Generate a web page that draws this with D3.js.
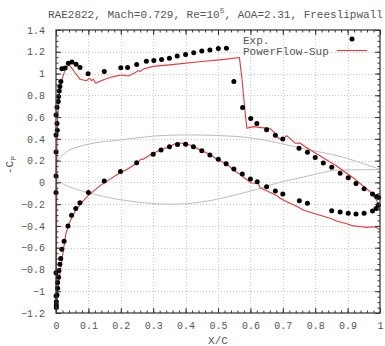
<!DOCTYPE html>
<html>
<head>
<meta charset="utf-8">
<script src="https://cdn.jsdelivr.net/npm/d3@7"></script>
<style>
  body { margin: 0; background: #fff; }
  text { font-family: "Liberation Mono", "DejaVu Sans Mono", monospace; fill: #555; }
</style>
</head>
<body>
<script>
// experiment, upper surface
var expUpperX = [0, 0, 0.004, 0.003, 0, 0.003, 0.007, 0.008, 0.010, 0.012, 0.015, 0.018, 0.028, 0.038, 0.049, 0.062, 0.074, 0.099,
  0.149, 0.20, 0.221, 0.249, 0.279, 0.302, 0.326, 0.35, 0.374, 0.40, 0.425, 0.45, 0.475, 0.501, 0.526, 0.549, 0.576, 0.601,
  0.62, 0.65, 0.677, 0.70, 0.75, 0.776, 0.80, 0.825, 0.851, 0.877, 0.902, 0.926, 0.951, 0.977, 0.99, 0.996];
var expUpperCp = [0.28, 0.436, 0.48, 0.54, 0.62, 0.69, 0.742, 0.79, 0.84, 0.88, 0.926, 1.045, 1.05, 1.095, 1.106, 1.085, 1.056, 0.998,
  1.018, 1.054, 1.056, 1.082, 1.113, 1.119, 1.13, 1.14, 1.16, 1.174, 1.192, 1.208, 1.217, 1.229, 1.232, 0.926, 0.687, 0.586,
  0.54, 0.484, 0.432, 0.399, 0.313, 0.278, 0.228, 0.177, 0.139, 0.084, 0.042, -0.01, -0.058, -0.107, -0.13, -0.14];

// experiment, lower surface
var expLowerX = [0, 0, 0.001, 0.001, 0.001, 0, 0.003, 0.005, 0.005, 0.008, 0, 0.009, 0.012, 0.0145, 0.018, 0.025, 0.037, 0.048,
  0.061, 0.074, 0.10, 0.149, 0.199, 0.249, 0.30, 0.324, 0.35, 0.375, 0.40, 0.424, 0.45, 0.475, 0.501, 0.525, 0.549, 0.575,
  0.60, 0.621, 0.65, 0.677, 0.70, 0.751, 0.776, 0.851, 0.877, 0.902, 0.926, 0.951, 0.977, 0.988, 0.995];
var expLowerCp = [0.059, -0.094, -1.15, -1.127, -1.096, -1.044, -1.035, -0.973, -0.92, -0.872, -0.83, -0.81, -0.753, -0.70, -0.615, -0.54, -0.40, -0.303,
  -0.24, -0.186, -0.094, 0.013, 0.10, 0.181, 0.258, 0.298, 0.328, 0.347, 0.35, 0.328, 0.291, 0.252, 0.212, 0.172, 0.123, 0.077,
  0.031, 0.006, -0.04, -0.079, -0.107, -0.168, -0.192, -0.26, -0.272, -0.284, -0.29, -0.284, -0.263, -0.24, -0.208];

// PowerFlow, upper surface (LE -> TE)
var simUpperX = [0.001, 0.001, 0.002, 0.002, 0.003, 0.005, 0.007, 0.012, 0.018, 0.028, 0.038, 0.045, 0.053, 0.064, 0.074, 0.084,
  0.095, 0.103, 0.11, 0.115, 0.123, 0.134, 0.151, 0.177, 0.203, 0.223, 0.244, 0.254, 0.259, 0.27, 0.30, 0.35, 0.45, 0.52, 0.566,
  0.574, 0.583, 0.589, 0.609, 0.635, 0.66, 0.671, 0.683, 0.697, 0.712, 0.722, 0.738, 0.753, 0.769, 0.794, 0.836, 0.866, 0.897,
  0.918, 0.938, 0.969, 0.989, 0.997, 1.0];
var simUpperCp = [-1.15, -0.8, -0.3, 0.1, 0.35, 0.58, 0.70, 0.85, 0.94, 1.033, 1.079, 1.064, 1.033, 0.987, 0.948, 0.941,
  0.935, 0.957, 0.935, 0.948, 0.911, 0.926, 0.948, 0.972, 0.987, 0.978, 1.008, 1.027, 1.018, 1.042, 1.066, 1.08, 1.11, 1.13, 1.148,
  0.95, 0.665, 0.497, 0.512, 0.503, 0.497, 0.466, 0.415, 0.39, 0.43, 0.405, 0.36, 0.362, 0.328, 0.282, 0.206, 0.15, 0.084,
  0.04, -0.008, -0.085, -0.16, -0.22, -0.26];

// PowerFlow, lower surface (LE -> TE)
var simLowerX = [0.001, 0.004, 0.007, 0.012, 0.016, 0.023, 0.03, 0.04, 0.048, 0.063, 0.084, 0.10, 0.136, 0.167, 0.19, 0.22,
  0.249, 0.255, 0.262, 0.268, 0.29, 0.32, 0.35, 0.372, 0.393, 0.424, 0.444, 0.475, 0.496, 0.527, 0.547, 0.568, 0.583, 0.604,
  0.624, 0.63, 0.65, 0.681, 0.691, 0.722, 0.743, 0.763, 0.794, 0.846, 0.866, 0.897, 0.918, 0.938, 0.959, 0.974, 0.989, 1.0];
var simLowerCp = [-1.15, -1.05, -0.96, -0.84, -0.76, -0.62, -0.48, -0.38, -0.33, -0.245, -0.17, -0.12, -0.03, 0.03, 0.075, 0.12,
  0.175, 0.19, 0.215, 0.21, 0.252, 0.295, 0.33, 0.362, 0.359, 0.335, 0.298, 0.258, 0.212, 0.17, 0.114, 0.075, 0.038, -0.005,
  -0.008, -0.05, -0.076, -0.12, -0.146, -0.192, -0.22, -0.254, -0.284, -0.33, -0.355, -0.38, -0.4, -0.405, -0.413, -0.407, -0.413, -0.437];

// airfoil outline (gray), drawn in Cp units
var foilUpperX = [0, 0.003, 0.02, 0.043, 0.115, 0.2, 0.3, 0.4, 0.5, 0.6, 0.72, 0.78, 0.88, 1.0];
var foilUpperY = [0.13, 0.19, 0.25, 0.30, 0.36, 0.39, 0.425, 0.436, 0.43, 0.41, 0.34, 0.30, 0.236, 0.12];
var foilLowerX = [0, 0.004, 0.02, 0.045, 0.1, 0.2, 0.34, 0.45, 0.6, 0.69, 0.75, 0.85, 0.87, 1.0];
var foilLowerY = [0.13, 0.04, -0.01, -0.045, -0.095, -0.16, -0.2, -0.18, -0.08, 0.0, 0.04, 0.107, 0.112, 0.118];

var xTicks = [0, 0.1, 0.2, 0.3, 0.4, 0.5, 0.6, 0.7, 0.8, 0.9, 1];
var yTicks = [-1.2, -1, -0.8, -0.6, -0.4, -0.2, 0, 0.2, 0.4, 0.6, 0.8, 1, 1.2, 1.4];

var W = 385, H = 346;
var margin = {top: 30, right: 5, bottom: 33, left: 56};

var svg = d3.select("body").append("svg")
    .attr("width", W)
    .attr("height", H);

var x = d3.scaleLinear().domain([0, 1]).range([margin.left, W - margin.right]);
var y = d3.scaleLinear().domain([-1.2, 1.4]).range([H - margin.bottom, margin.top]);

function zip(xs, ys) { return xs.map(function(v, i) { return [v, ys[i]]; }); }

// grid
var grid = svg.append("g").attr("stroke", "#c8c8c8").attr("stroke-dasharray", "1,2").attr("stroke-width", 1);
xTicks.slice(1, -1).forEach(function(t) {
  grid.append("line").attr("x1", Math.round(x(t)) + 0.5).attr("x2", Math.round(x(t)) + 0.5)
      .attr("y1", y(-1.2)).attr("y2", y(1.4));
});
yTicks.slice(1, -1).forEach(function(t) {
  grid.append("line").attr("y1", Math.round(y(t)) + 0.5).attr("y2", Math.round(y(t)) + 0.5)
      .attr("x1", x(0)).attr("x2", x(1));
});

// airfoil
var smooth = d3.line().x(function(d) { return x(d[0]); }).y(function(d) { return y(d[1]); })
    .curve(d3.curveCatmullRom);
[zip(foilUpperX, foilUpperY), zip(foilLowerX, foilLowerY)].forEach(function(p) {
  svg.append("path").attr("d", smooth(p)).attr("fill", "none")
     .attr("stroke", "#bdbdbd").attr("stroke-width", 1);
});

// simulation line
var line = d3.line().x(function(d) { return x(d[0]); }).y(function(d) { return y(d[1]); });
var simPts = zip(simLowerX, simLowerCp).reverse().concat(zip(simUpperX, simUpperCp));
svg.append("path").attr("d", line(simPts)).attr("fill", "none")
   .attr("stroke", "#f03535").attr("stroke-width", 1.1).attr("stroke-linejoin", "round");

// experiment
var expPts = zip(expUpperX, expUpperCp).concat(zip(expLowerX, expLowerCp));
svg.append("g").selectAll("circle").data(expPts).enter().append("circle")
   .attr("cx", function(d) { return x(d[0]); })
   .attr("cy", function(d) { return y(d[1]); })
   .attr("r", 2.5).attr("fill", "#000");

// axes (ticks inward, mirrored)
var fmt = function(d) { return d === 0 ? "0" : d3.format("")(+d.toFixed(1)); };
var xMinor = d3.range(0, 1.0001, 0.02).map(function(v) { return +v.toFixed(2); });
var yMinor = d3.range(-1.2, 1.4001, 0.05).map(function(v) { return +v.toFixed(2); });

function styleAxis(g) {
  g.select(".domain").remove();
  g.selectAll("line").attr("stroke", "#333");
  g.selectAll("text").style("font-family", "Liberation Mono, monospace").style("font-size", "10px").attr("fill", "#555");
}

svg.append("g").attr("transform", "translate(0," + y(-1.2) + ")")
   .call(d3.axisBottom(x).tickValues(xTicks).tickSizeInner(-5).tickSizeOuter(0).tickPadding(9).tickFormat(fmt))
   .call(styleAxis);
svg.append("g").attr("transform", "translate(0," + y(-1.2) + ")")
   .call(d3.axisBottom(x).tickValues(xMinor).tickSizeInner(-2.5).tickSizeOuter(0).tickFormat(""))
   .call(styleAxis);
svg.append("g").attr("transform", "translate(0," + y(1.4) + ")")
   .call(d3.axisTop(x).tickValues(xTicks).tickSizeInner(-5).tickSizeOuter(0).tickFormat(""))
   .call(styleAxis);
svg.append("g").attr("transform", "translate(0," + y(1.4) + ")")
   .call(d3.axisTop(x).tickValues(xMinor).tickSizeInner(-2.5).tickSizeOuter(0).tickFormat(""))
   .call(styleAxis);
svg.append("g").attr("transform", "translate(" + x(0) + ",0)")
   .call(d3.axisLeft(y).tickValues(yTicks).tickSizeInner(-5).tickSizeOuter(0).tickPadding(11).tickFormat(fmt))
   .call(styleAxis);
svg.append("g").attr("transform", "translate(" + x(0) + ",0)")
   .call(d3.axisLeft(y).tickValues(yMinor).tickSizeInner(-2.5).tickSizeOuter(0).tickFormat(""))
   .call(styleAxis);
svg.append("g").attr("transform", "translate(" + x(1) + ",0)")
   .call(d3.axisRight(y).tickValues(yTicks).tickSizeInner(-5).tickSizeOuter(0).tickFormat(""))
   .call(styleAxis);
svg.append("g").attr("transform", "translate(" + x(1) + ",0)")
   .call(d3.axisRight(y).tickValues(yMinor).tickSizeInner(-2.5).tickSizeOuter(0).tickFormat(""))
   .call(styleAxis);

// border
svg.append("rect").attr("x", x(0)).attr("y", y(1.4))
   .attr("width", x(1) - x(0)).attr("height", y(-1.2) - y(1.4))
   .attr("fill", "none").attr("stroke", "#333").attr("stroke-width", 1.2);

// title
var title = svg.append("text").attr("x", 48).attr("y", 17.5).style("font-size", "11px");
title.append("tspan").text("RAE2822, Mach=0.729, Re=10");
title.append("tspan").attr("dy", -5).style("font-size", "8px").text("5");
title.append("tspan").attr("dy", 5).text(", AOA=2.31, Freeslipwall");

// axis labels
svg.append("text").attr("x", (x(0) + x(1)) / 2).attr("y", 344).attr("text-anchor", "middle")
   .style("font-size", "11px").text("X/C");
var yl = svg.append("text").attr("transform", "translate(13,165) rotate(-90)")
   .attr("text-anchor", "middle").style("font-size", "11px");
yl.append("tspan").text("-C");
yl.append("tspan").attr("dy", 3).style("font-size", "8px").text("P");

// legend
svg.append("text").attr("x", 243).attr("y", 43.5).style("font-size", "11px").text("Exp.");
svg.append("text").attr("x", 243).attr("y", 54.5).style("font-size", "11px").text("PowerFlow-Sup");
svg.append("circle").attr("cx", 352).attr("cy", 39).attr("r", 2.5).attr("fill", "#000");
svg.append("line").attr("x1", 337).attr("x2", 367).attr("y1", 50.5).attr("y2", 50.5)
   .attr("stroke", "#f03535").attr("stroke-width", 1.1);
</script>
</body>
</html>
